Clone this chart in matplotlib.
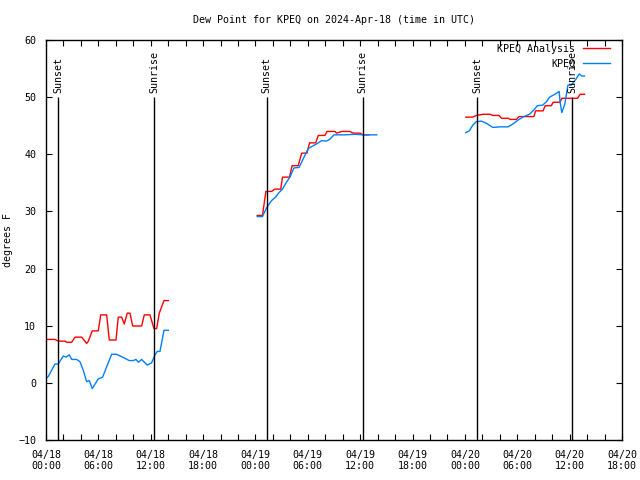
import numpy as np
import pandas as pd
import matplotlib
matplotlib.use('Agg')
from matplotlib import pyplot as plt
import matplotlib.dates as mdates

base = pd.Timestamp('2024-04-18 00:00')

# hours after 04/18 00:00 UTC
anl_hours = [0.0, 1.03, 1.41, 2.18, 2.37, 2.94, 3.32, 4.09, 4.66, 4.85, 5.30, 5.99, 6.27, 6.95,
             7.25, 8.02, 8.28, 8.67, 8.97, 9.31, 9.62, 9.93, 10.96, 11.26, 11.91, 12.37, 12.68,
             12.98, 13.52, 14.01,
             np.nan,
             24.2, 24.8, 25.2, 25.85, 26.2, 26.9, 27.1, 27.9, 28.2, 28.9, 29.3, 29.9, 30.2, 30.9,
             31.2, 31.96, 32.2, 33.1, 33.3, 33.9, 34.8, 35.2, 36.0, 36.3, 37.0,
             np.nan,
             48.1, 48.9, 49.3, 50.1, 50.9, 51.2, 51.9, 52.2, 52.95, 53.2, 53.9, 54.2, 55.0, 55.9,
             56.1, 56.96, 57.2, 57.9, 58.1, 58.9, 59.1, 60.9, 61.2, 61.7]
anl_dew = [7.6, 7.6, 7.3, 7.3, 7.1, 7.1, 8.0, 8.0, 6.9, 7.3, 9.1, 9.1, 11.9, 11.9,
           7.5, 7.5, 11.5, 11.5, 10.3, 12.2, 12.2, 9.95, 9.95, 11.9, 11.9, 9.5, 9.5,
           12.2, 14.4, 14.4,
           np.nan,
           29.3, 29.3, 33.5, 33.5, 33.9, 33.9, 36.0, 36.0, 38.0, 38.0, 40.2, 40.2, 42.0, 42.0,
           43.3, 43.3, 44.0, 44.0, 43.7, 44.0, 44.0, 43.7, 43.7, 43.4, 43.4,
           np.nan,
           46.5, 46.5, 46.8, 47.0, 47.0, 46.8, 46.8, 46.3, 46.3, 46.1, 46.1, 46.6, 46.6, 46.6,
           47.6, 47.6, 48.5, 48.5, 49.1, 49.1, 49.8, 49.8, 50.5, 50.5]

obs_hours = [0.0, 0.26, 1.03, 1.41, 1.98, 2.29, 2.67, 2.94, 3.51, 3.89, 4.27, 4.66, 4.96, 5.30,
             5.99, 6.49, 6.95, 7.52, 8.09, 8.78, 9.54, 10.0, 10.3, 10.6, 10.96, 11.6, 12.1,
             12.49, 12.75, 13.06, 13.52, 14.01,
             np.nan,
             24.2, 24.8, 25.3, 25.85, 26.3, 26.7, 27.1, 27.5, 27.95, 28.4, 29.0, 29.5, 30.05,
             30.5, 31.1, 31.6, 32.1, 32.5, 33.0, 33.7, 34.2, 35.4, 36.4, 37.9,
             np.nan,
             48.1, 48.5, 48.9, 49.3, 49.9, 50.5, 51.2, 52.0, 52.95, 53.5, 54.1, 54.75, 55.4,
             55.9, 56.3, 56.9, 57.35, 57.7, 58.3, 58.8, 58.9, 59.1, 59.45, 59.8, 60.2, 60.7,
             61.1, 61.4, 61.7]
obs_dew = [0.8, 1.1, 3.3, 3.3, 4.7, 4.5, 4.9, 4.1, 4.1, 3.7, 2.2, 0.2, 0.4, -1.0,
           0.7, 1.0, 2.8, 5.0, 5.0, 4.5, 3.9, 3.9, 4.1, 3.6, 4.1, 3.1, 3.5,
           4.9, 5.5, 5.5, 9.2, 9.2,
           np.nan,
           29.1, 29.1, 30.7, 31.9, 32.5, 33.3, 33.9, 35.0, 36.0, 37.6, 37.7, 39.3, 41.0,
           41.4, 41.9, 42.4, 42.3, 42.6, 43.4, 43.4, 43.4, 43.5, 43.4, 43.4,
           np.nan,
           43.8, 44.1, 45.1, 45.7, 45.8, 45.4, 44.7, 44.8, 44.8, 45.3, 46.0, 46.6, 47.0,
           47.75, 48.5, 48.6, 49.2, 50.0, 50.5, 51.0, 49.2, 47.3, 48.8, 52.1, 52.1, 53.1,
           54.05, 53.7, 53.7]

sun_hours = [1.4, 12.4, 25.3, 36.3, 49.4, 60.3]
sun_labels = ['Sunset', 'Sunrise', 'Sunset', 'Sunrise', 'Sunset', 'Sunrise']

def to_time(h):
    return base + pd.to_timedelta(np.array(h, dtype=float), unit='h')

fnt = 'DejaVu Sans Mono'
fs = 7.2
plt.rcParams['font.family'] = fnt
plt.rcParams['font.size'] = fs

fig = plt.figure(figsize=(6.4, 4.8), dpi=100)
ax = fig.add_axes([46/640, 40/480, 576/640, 400/480])

ax.plot(to_time(anl_hours), anl_dew, color='#ff0000', lw=1, label='KPEQ Analysis')
ax.plot(to_time(obs_hours), obs_dew, color='#0080ff', lw=1, label='KPEQ')

# sunrise / sunset markers
for h, lab in zip(sun_hours, sun_labels):
    t = to_time([h])[0]
    ax.vlines(t, -10, 50, color='k', lw=1)
    ax.text(t, 50.8, lab, rotation=90, ha='center', va='bottom', fontsize=fs)

ax.set_xlim(base, base + pd.Timedelta(hours=66))
ax.set_ylim(-10, 60)
ax.set_yticks(np.arange(-10, 61, 10))

ax.xaxis.set_major_locator(mdates.HourLocator(byhour=[0, 6, 12, 18]))
ax.xaxis.set_major_formatter(mdates.DateFormatter('%m/%d\n%H:%M'))
ax.xaxis.set_minor_locator(mdates.HourLocator(byhour=range(0, 24, 2)))

ax.tick_params(which='both', direction='in', top=True, right=True, length=4, width=0.8)
ax.tick_params(axis='x', pad=7)
ax.tick_params(axis='y', pad=7)
for sp in ax.spines.values():
    sp.set_linewidth(1)

ax.set_title('Dew Point for KPEQ on 2024-Apr-18 (time in UTC)', fontsize=fs, pad=12)
ax.set_ylabel('degrees F', fontsize=fs, labelpad=4)

ax.legend(loc='upper right', bbox_to_anchor=(0.986, 1.0), frameon=False, markerfirst=False,
          handlelength=2.7, handletextpad=0.8, labelspacing=0.45, borderaxespad=0.0, fontsize=fs)

plt.savefig('out.png', dpi=100)
